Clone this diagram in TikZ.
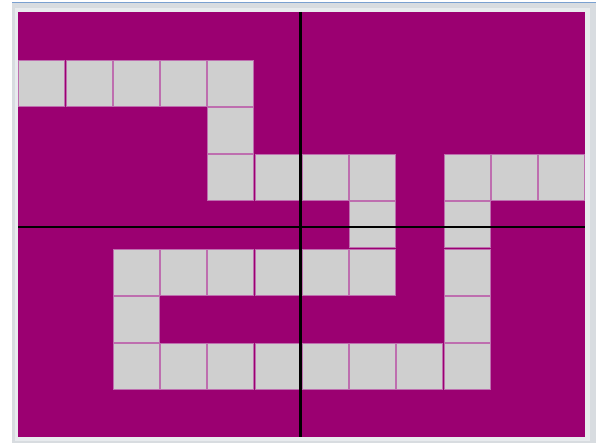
\documentclass[tikz,border=0pt]{standalone}
\usepackage{tikz}
\usetikzlibrary{positioning}
\usetikzlibrary{calc}

\definecolor{boardpurple}{RGB}{155,0,113}
\definecolor{cellgrey}{RGB}{207,207,207}
\definecolor{celledge}{RGB}{190,110,175}
\definecolor{framegrey}{RGB}{216,220,224}
\definecolor{framelight}{RGB}{232,235,238}
\definecolor{frameblue}{RGB}{122,160,208}

\begin{document}
\begin{tikzpicture}[x=1pt,y=-1pt,
  cell/.style={fill=cellgrey,draw=celledge,line width=0.6pt},
  axis/.style={draw=black,line width=2.2pt}]
  \useasboundingbox (0,0) rectangle (603,443);
  % window frame
  \fill[framegrey] (12,3) rectangle (596,443);
  \fill[framelight] (15,8) rectangle (590,441);
  \draw[frameblue,line width=1pt] (12,2.5) -- (596,2.5);
  % board
  \fill[boardpurple] (18,12) rectangle (585,437.5);
  % grey cells (column,row)
  \foreach \c/\r in {0/1,1/1,2/1,3/1,4/1,
                     4/2,
                     4/3,5/3,6/3,7/3,9/3,10/3,11/3,
                     7/4,9/4,
                     2/5,3/5,4/5,5/5,6/5,7/5,9/5,
                     2/6,9/6,
                     2/7,3/7,4/7,5/7,6/7,7/7,8/7,9/7}
    \draw[cell] ({18+47.25*\c+0.6},{12+47.25*\r+0.6})
      rectangle ({18+47.25*(\c+1)-0.6},{12+47.25*(\r+1)-0.6});
  % axes
  \coordinate (top) at (300.5,12);
  \coordinate (bottom) at (300.5,437.5);
  \coordinate (left) at (18,227);
  \coordinate (right) at (585,227);
  \draw[axis] (top) -- (bottom);
  \draw[axis] (left) -- (right);
\end{tikzpicture}
\end{document}
